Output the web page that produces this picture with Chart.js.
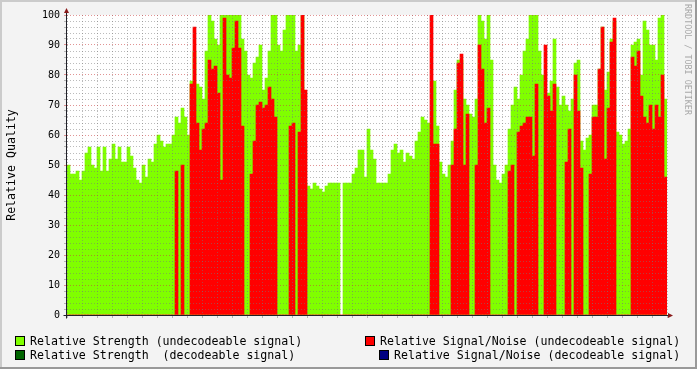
<!DOCTYPE html>
<html>
<head>
<meta charset="utf-8">
<script src="https://cdn.jsdelivr.net/npm/chart.js@4/dist/chart.umd.min.js"></script>
<style>
  body { margin: 0; background: #f3f3f3; }
  #wrap { position: relative; width: 697px; height: 369px; font-family: "DejaVu Sans Mono", monospace; }
  #wrap canvas { position: absolute; left: 0; top: 0; }
  .key { position: absolute; width: 10px; height: 10px; box-sizing: border-box; border: 1px solid #000; }
  .lbl { position: absolute; font-size: 11.6px; line-height: 14px; color: #000; white-space: pre; }
  #credit { position: absolute; left: 683px; top: 4px; font-size: 8.4px; color: #a8a8a8; writing-mode: vertical-rl; white-space: pre; }
</style>
</head>
<body>
<div id="wrap">
  <canvas id="quality" width="697" height="369"></canvas>
  <div class="key" style="left:15px;top:336px;background:#80ff00"></div>
  <div class="lbl" style="left:30px;top:334px">Relative Strength (undecodeable signal)</div>
  <div class="key" style="left:15px;top:350px;background:#006400"></div>
  <div class="lbl" style="left:30px;top:348px">Relative Strength  (decodeable signal)</div>
  <div class="key" style="left:365px;top:336px;background:#ff0000"></div>
  <div class="lbl" style="left:380px;top:334px">Relative Signal/Noise (undecodeable signal)</div>
  <div class="key" style="left:379px;top:350px;background:#000080"></div>
  <div class="lbl" style="left:394px;top:348px">Relative Signal/Noise (decodeable signal)</div>
  <div id="credit">RRDTOOL / TOBI OETIKER</div>
</div>
<script>
(function(){
    // one sample = 1.2 h, first sample starts 2.6 h before 06 Feb 00:00
    var startHour = -2.6;
    var stepHours = 1.2;
    var dayLabels = ['06 Feb','07 Feb','08 Feb','09 Feb','10 Feb','11 Feb','12 Feb','13 Feb','14 Feb','15 Feb'];

    var strengthUndecodeable = [
        50,47,47,48,45,48,54,56,50,49,
        56,48,56,48,52,57,52,56,51,51,
        56,53,49,45,44,50,46,52,51,57,
        60,58,56,57,57,60,66,64,69,66,
        60,78,88,77,76,72,88,100,98,92,
        90,100,100,100,100,100,100,100,92,88,
        80,79,84,86,90,75,79,88,100,100,
        90,88,95,100,100,100,88,90,100,44,
        43,42,44,43,42,41,43,44,44,44,
        44,null,44,44,44,47,49,55,55,46,
        62,55,52,44,44,44,44,47,55,57,
        54,55,51,54,53,52,58,61,66,65,
        64,62,78,63,51,47,46,50,58,75,
        85,85,72,70,67,66,72,100,98,92,
        100,85,50,45,44,47,50,62,70,76,
        72,80,88,92,100,100,100,88,80,72,
        74,78,92,76,70,73,70,68,72,84,
        85,58,55,59,60,70,70,82,96,75,
        81,92,98,61,60,57,58,62,90,91,
        92,80,98,95,90,90,85,99,100,72
    ];
    var snrUndecodeable = [
        0,0,0,0,0,0,0,0,0,0,
        0,0,0,0,0,0,0,0,0,0,
        0,0,0,0,0,0,0,0,0,0,
        0,0,0,0,0,0,48,0,50,0,
        0,77,96,64,55,62,64,85,82,83,
        74,45,99,80,79,89,98,89,63,0,
        0,47,58,70,71,69,70,76,72,66,
        0,0,0,0,63,64,0,61,100,75,
        0,0,0,0,0,0,0,0,0,0,
        0,0,0,0,0,0,0,0,0,0,
        0,0,0,0,0,0,0,0,0,0,
        0,0,0,0,0,0,0,0,0,0,
        0,100,57,57,0,0,0,0,50,62,
        84,87,50,67,0,0,50,90,82,64,
        69,0,0,0,0,0,0,48,50,0,
        61,63,64,66,66,53,77,0,0,90,
        73,68,77,0,0,0,51,62,0,80,
        68,49,0,0,47,66,66,82,96,52,
        69,91,99,0,0,0,0,0,86,83,
        88,73,66,64,70,62,70,66,80,46
    ];
    var strengthDecodeable = [];
    var snrDecodeable = [];

    function toPoints(values){
        return values.map(function(v, i){
            return {x: startHour + stepHours * (i + 0.5), y: v};
        });
    }

    var minorGrid = 'rgba(120,120,120,0.5)';
    var majorGrid = 'rgba(200,60,60,0.55)';
    var monoFont = 'DejaVu Sans Mono';

    var rrdFrame = {
        id: 'rrdFrame',
        beforeDraw: function(chart){
            var ctx = chart.ctx, a = chart.chartArea;
            ctx.save();
            ctx.fillStyle = '#f3f3f3';
            ctx.fillRect(0, 0, chart.width, chart.height);
            ctx.fillStyle = '#cbcbcb';
            ctx.fillRect(0, 0, chart.width, 2);
            ctx.fillRect(0, 0, 2, chart.height);
            ctx.fillStyle = '#999999';
            ctx.fillRect(0, chart.height - 2, chart.width, 2);
            ctx.fillRect(chart.width - 2, 0, 2, chart.height);
            ctx.fillStyle = '#ffffff';
            ctx.fillRect(a.left, a.top, a.right - a.left, a.bottom - a.top);
            ctx.restore();
        },
        afterDraw: function(chart){
            var ctx = chart.ctx, a = chart.chartArea;
            var x0 = a.left - 0.5, y0 = a.bottom + 0.5;
            ctx.save();
            ctx.strokeStyle = '#202028';
            ctx.lineWidth = 1;
            ctx.beginPath();
            ctx.moveTo(x0, y0 + 3);
            ctx.lineTo(x0, a.top - 4);
            ctx.moveTo(x0 - 3, y0);
            ctx.lineTo(a.right + 2, y0);
            ctx.stroke();
            ctx.fillStyle = '#8a1a1a';
            ctx.beginPath();
            ctx.moveTo(x0, a.top - 7);
            ctx.lineTo(x0 - 2.5, a.top - 2);
            ctx.lineTo(x0 + 2.5, a.top - 2);
            ctx.closePath();
            ctx.fill();
            ctx.beginPath();
            ctx.moveTo(a.right + 6, y0);
            ctx.lineTo(a.right + 1, y0 - 2.5);
            ctx.lineTo(a.right + 1, y0 + 2.5);
            ctx.closePath();
            ctx.fill();
            ctx.restore();
        }
    };

    var canvas = document.getElementById('quality');
    new Chart(canvas, {
        type: 'bar',
        data: {
            datasets: [{
                label: 'Relative Signal/Noise (undecodeable signal)',
                data: toPoints(snrUndecodeable),
                backgroundColor: '#ff0000',
                order: 0
            }, {
                label: 'Relative Strength (undecodeable signal)',
                data: toPoints(strengthUndecodeable),
                backgroundColor: '#80ff00',
                order: 1
            }, {
                label: 'Relative Strength  (decodeable signal)',
                data: toPoints(strengthDecodeable),
                backgroundColor: '#006400',
                order: 2
            }, {
                label: 'Relative Signal/Noise (decodeable signal)',
                data: toPoints(snrDecodeable),
                backgroundColor: '#000080',
                order: 3
            }]
        },
        options: {
            responsive: false,
            animation: false,
            devicePixelRatio: 1,
            layout: { padding: { top: 15, right: 30, bottom: 0, left: 0 } },
            plugins: { legend: { display: false }, tooltip: { enabled: false } },
            datasets: { bar: { categoryPercentage: 1, barPercentage: 1, grouped: false, borderWidth: 0 } },
            scales: {
                x: {
                    type: 'linear',
                    min: startHour,
                    max: startHour + 240,
                    offset: false,
                    afterFit: function(s){ s.height = 54; },
                    grid: {
                        offset: false,
                        z: 1,
                        drawTicks: true,
                        tickLength: 3,
                        color: function(c){ return c.tick && (c.tick.value - 12) % 24 === 0 ? majorGrid : minorGrid; },
                        tickColor: function(c){ return c.tick && (c.tick.value - 12) % 24 === 0 ? majorGrid : minorGrid; }
                    },
                    border: { display: false, dash: [1, 2] },
                    ticks: {
                        stepSize: 6,
                        includeBounds: false,
                        autoSkip: false,
                        maxRotation: 0,
                        padding: 2,
                        color: '#000',
                        font: { family: monoFont, size: 10 },
                        callback: function(v){ return v % 24 === 0 ? dayLabels[v / 24] : ''; }
                    }
                },
                y: {
                    min: 0,
                    max: 100,
                    afterFit: function(s){ s.width = 67; },
                    grid: {
                        z: 1,
                        drawTicks: true,
                        tickLength: 3,
                        color: function(c){ return c.tick && c.tick.value % 10 === 0 ? majorGrid : minorGrid; },
                        tickColor: function(c){ return c.tick && c.tick.value % 10 === 0 ? majorGrid : minorGrid; }
                    },
                    border: { display: false, dash: [1, 2] },
                    title: {
                        display: true,
                        text: 'Relative Quality',
                        color: '#000',
                        padding: { top: 5, bottom: 0 },
                        font: { family: monoFont, size: 11.6 }
                    },
                    ticks: {
                        stepSize: 2,
                        autoSkip: false,
                        padding: 4,
                        color: '#000',
                        font: { family: monoFont, size: 10 },
                        callback: function(v){ return v % 10 === 0 ? v : ''; }
                    }
                }
            }
        },
        plugins: [rrdFrame]
    });
})()
</script>
</body>
</html>
